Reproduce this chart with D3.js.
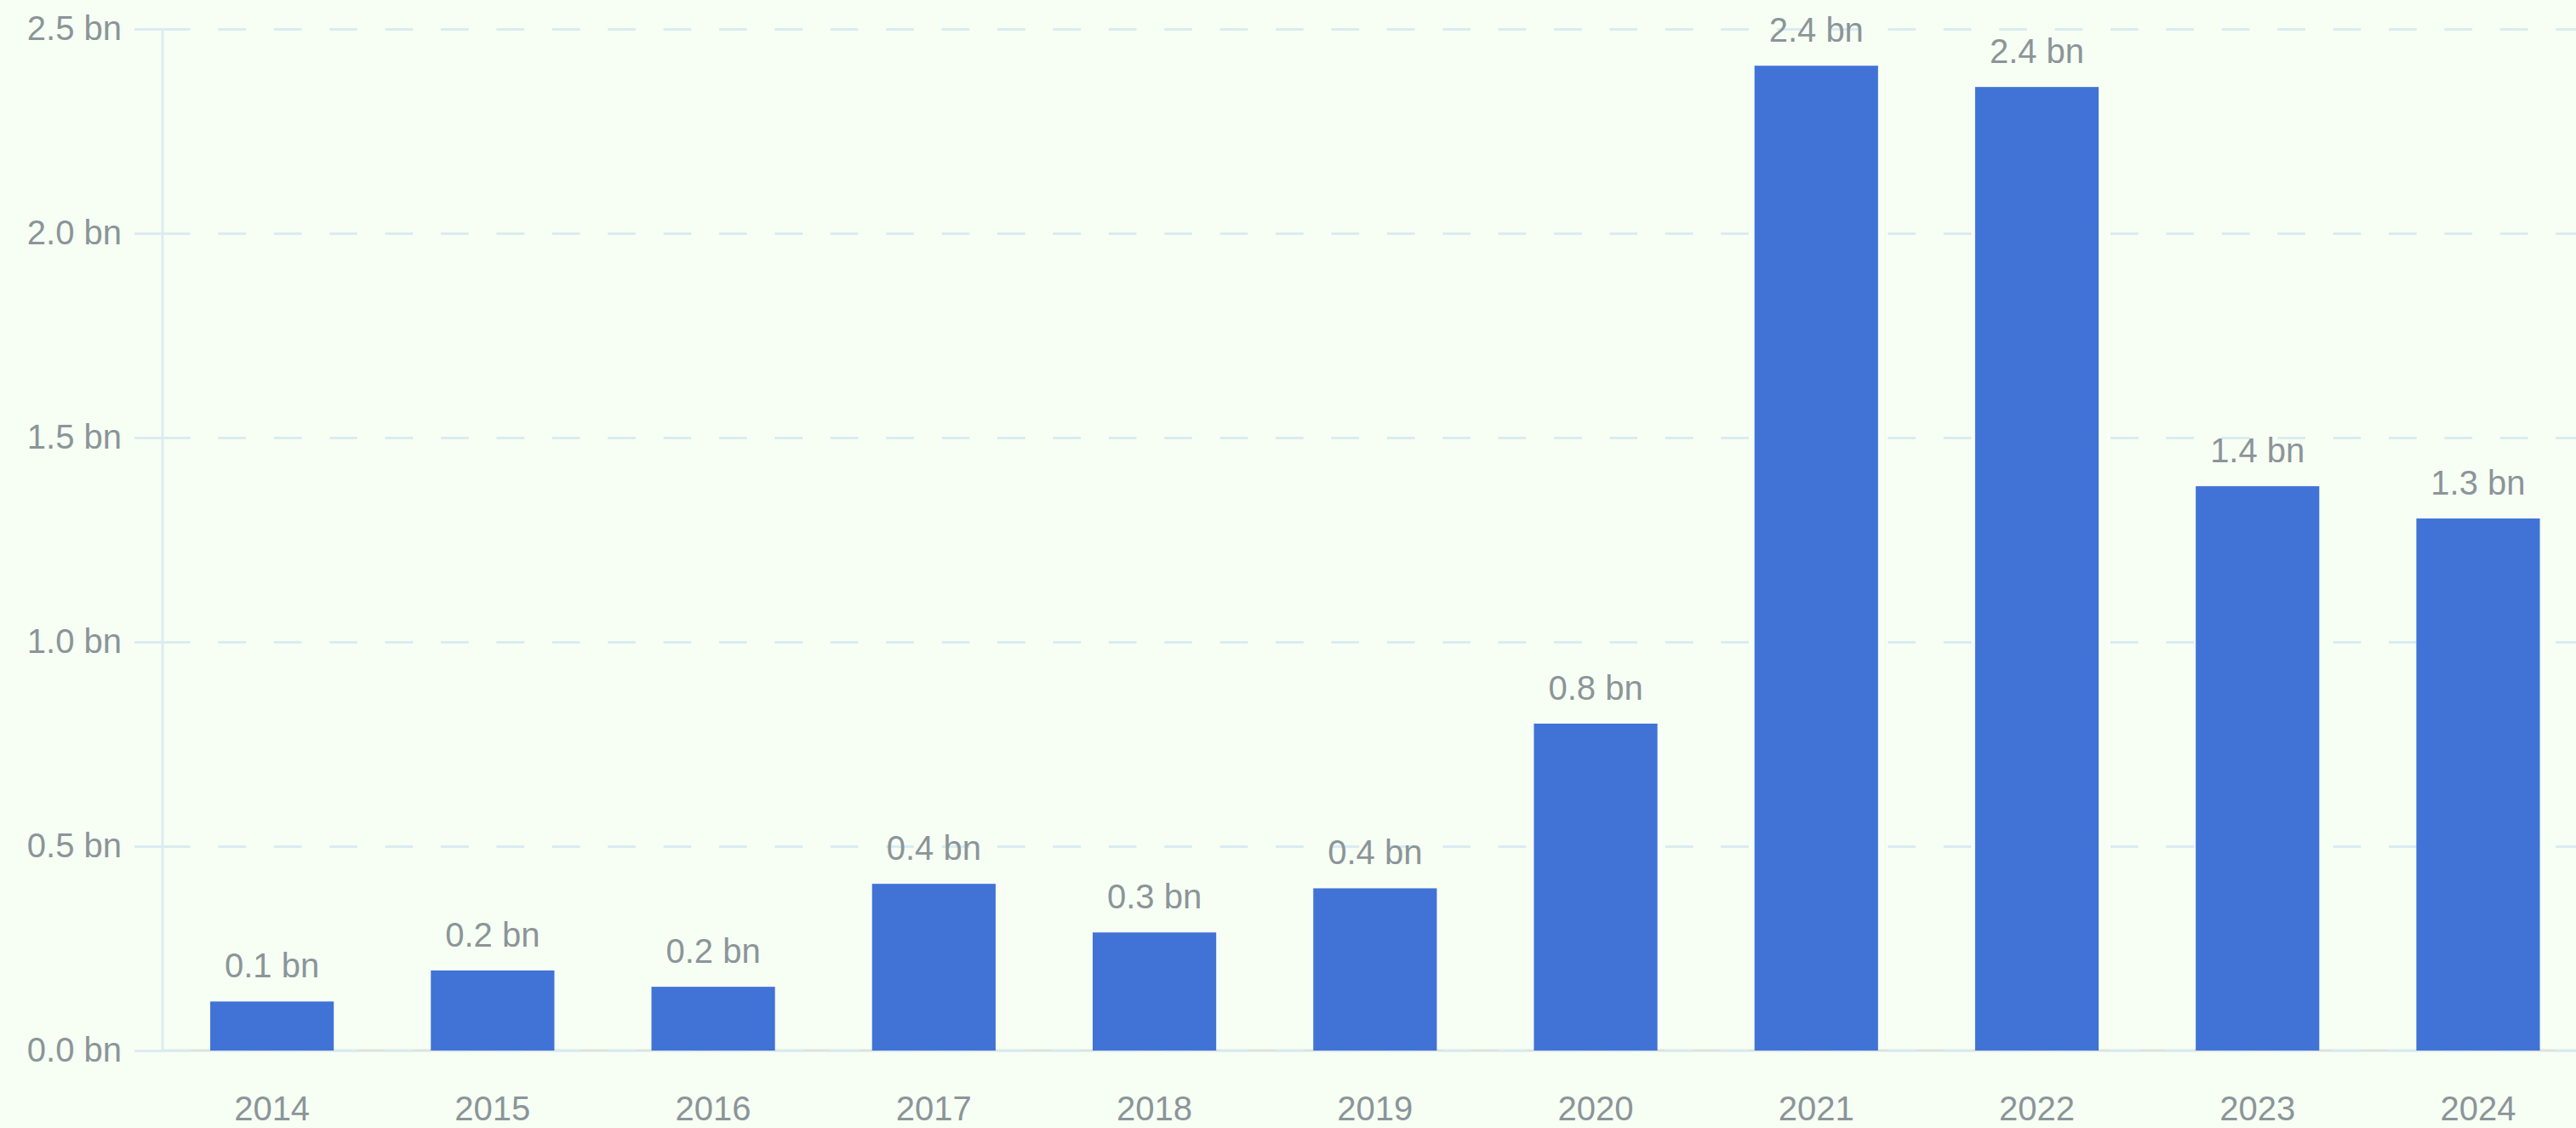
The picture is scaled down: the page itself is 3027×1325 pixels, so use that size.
<!DOCTYPE html>
<html>
<head>
<meta charset="utf-8">
<script src="https://cdn.jsdelivr.net/npm/d3@7"></script>
<style>
  html, body { margin: 0; padding: 0; background: #f7fff4; }
  #chart svg { display: block; }
</style>
</head>
<body>
<div id="chart"></div>
<script>
// values in billions
const years = ["2014", "2015", "2016", "2017", "2018", "2019", "2020", "2021", "2022", "2023", "2024"];
const amounts = [0.12, 0.196, 0.156, 0.408, 0.289, 0.397, 0.80, 2.41, 2.358, 1.381, 1.302];
const yTicks = [0, 0.5, 1.0, 1.5, 2.0, 2.5];

(function() {
    const width = 3027, height = 1325;
    const margin = {top: 34, bottom: 91, left: 190};
    const font = "'Liberation Sans', Arial, Helvetica, sans-serif";
    const textColor = "#8b9599";

    const data = years.map((y, i) => ({year: y, value: amounts[i]}));

    const svg = d3.select("#chart").append("svg")
        .attr("width", width)
        .attr("height", height);

    svg.append("rect").attr("width", width).attr("height", height).attr("fill", "#f7fff4");

    const x = d3.scaleBand()
        .domain(years)
        .range([margin.left, 3041.6])
        .paddingInner(0.44)
        .paddingOuter(0.22);

    const y = d3.scaleLinear()
        .domain([0, 2.5])
        .range([height - margin.bottom, margin.top]);

    // x axis base line
    svg.append("line")
        .attr("x1", margin.left).attr("x2", width)
        .attr("y1", y(0)).attr("y2", y(0))
        .attr("stroke", "#dce3df")
        .attr("stroke-width", 3);

    // dashed gridlines
    const grid = svg.append("g")
        .attr("transform", `translate(${margin.left + 1},0)`)
        .call(d3.axisLeft(y).tickValues(yTicks).tickSize(-(width - margin.left)).tickFormat(""));
    grid.select(".domain").remove();
    grid.selectAll(".tick line")
        .attr("stroke", "#d9ecf0")
        .attr("stroke-width", 3)
        .attr("stroke-dasharray", "32.7 32.7");

    // y axis with short ticks and labels
    const yAxis = svg.append("g")
        .attr("transform", `translate(${margin.left + 1},0)`)
        .call(d3.axisLeft(y).tickValues(yTicks).tickSize(33).tickPadding(15)
            .tickFormat(d => d.toFixed(1) + " bn"));
    yAxis.select(".domain").remove();
    yAxis.selectAll(".tick line").attr("stroke", "#dcebf1").attr("stroke-width", 3);
    yAxis.selectAll(".tick text")
        .attr("fill", textColor)
        .style("font-family", font)
        .style("font-size", "40px");

    svg.append("line")
        .attr("x1", margin.left + 1).attr("x2", margin.left + 1)
        .attr("y1", y(2.5)).attr("y2", y(0))
        .attr("stroke", "#dcebf1")
        .attr("stroke-width", 3);

    // bars
    svg.selectAll("rect.bar")
        .data(data)
        .enter().append("rect")
        .attr("class", "bar")
        .attr("x", d => x(d.year))
        .attr("width", x.bandwidth())
        .attr("y", d => y(d.value))
        .attr("height", d => y(0) - y(d.value))
        .attr("fill", "#4173d7");

    // value labels
    svg.selectAll("text.value")
        .data(data)
        .enter().append("text")
        .attr("class", "value")
        .attr("x", d => x(d.year) + x.bandwidth() / 2)
        .attr("y", d => y(d.value) - 28)
        .attr("text-anchor", "middle")
        .attr("fill", textColor)
        .style("font-family", font)
        .style("font-size", "40px")
        .text(d => d.value.toFixed(1) + " bn");

    // x axis labels
    const xAxis = svg.append("g")
        .attr("transform", `translate(0,${y(0)})`)
        .call(d3.axisBottom(x).tickSize(0).tickPadding(54));
    xAxis.select(".domain").remove();
    xAxis.selectAll(".tick text")
        .attr("fill", textColor)
        .style("font-family", font)
        .style("font-size", "40px");
})();
</script>
</body>
</html>
